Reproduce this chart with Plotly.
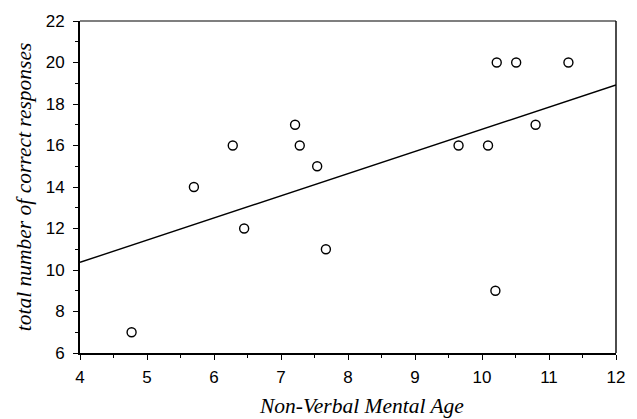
import plotly.graph_objects as go

# Data
nv_mental_age = [4.77, 5.70, 6.28, 6.45, 7.21, 7.28, 7.54, 7.67, 9.65, 10.09, 10.20, 10.22, 10.51, 10.80, 11.29]
correct_responses = [7, 14, 16, 12, 17, 16, 15, 11, 16, 16, 9, 20, 20, 17, 20]

# Regression line end points
fit_x = [4, 12]
fit_y = [10.37, 18.92]

x_title = "Non-Verbal Mental Age"
y_title = "total number of correct responses"

fig = go.Figure()
fig.add_trace(go.Scatter(
    x=fit_x, y=fit_y, mode="lines",
    line=dict(color="black", width=1.4),
    showlegend=False, hoverinfo="skip"))
fig.add_trace(go.Scatter(
    x=nv_mental_age, y=correct_responses, mode="markers",
    marker=dict(symbol="circle-open", size=9, color="black", line=dict(width=1.4)),
    showlegend=False))

tick_font = dict(family="Liberation Sans, Arial, sans-serif", size=17, color="black")
title_font = dict(family="Liberation Serif, Times New Roman, serif", size=21.5, color="black")

fig.update_layout(
    width=637, height=419,
    margin=dict(l=80, r=20, t=15, b=66),
    paper_bgcolor="white", plot_bgcolor="white",
    xaxis=dict(
        range=[4, 12], tickmode="linear", tick0=4, dtick=1,
        ticks="outside", ticklen=5, tickwidth=1.4, tickcolor="black",
        minor=dict(ticks="outside", ticklen=3, tickwidth=1.2, tickcolor="black", dtick=0.5, showgrid=False),
        showline=True, linecolor="black", linewidth=1.8,
        showgrid=False, zeroline=False, tickfont=tick_font, ticklabelstandoff=3,
    ),
    yaxis=dict(
        range=[6, 22], tickmode="linear", tick0=6, dtick=2,
        ticks="outside", ticklen=5, tickwidth=1.4, tickcolor="black",
        minor=dict(ticks="outside", ticklen=3, tickwidth=1.2, tickcolor="black", dtick=1, showgrid=False),
        showline=True, linecolor="black", linewidth=1.8,
        showgrid=False, zeroline=False, tickfont=tick_font, ticklabelstandoff=5,
        title=dict(text="<i>" + y_title + "</i>", font=title_font, standoff=8),
    ),
    shapes=[
        dict(type="line", xref="paper", yref="paper", x0=0, x1=1, y0=1, y1=1,
             line=dict(color="black", width=1.1)),
        dict(type="line", xref="paper", yref="paper", x0=1, x1=1, y0=0, y1=1,
             line=dict(color="black", width=1.4)),
    ],
    annotations=[
        dict(text="<i>" + x_title + "</i>", xref="paper", yref="paper", x=0.525, y=0,
             xanchor="center", yanchor="top", yshift=-39, showarrow=False, font=title_font),
    ],
)

fig.write_html("out.html")
